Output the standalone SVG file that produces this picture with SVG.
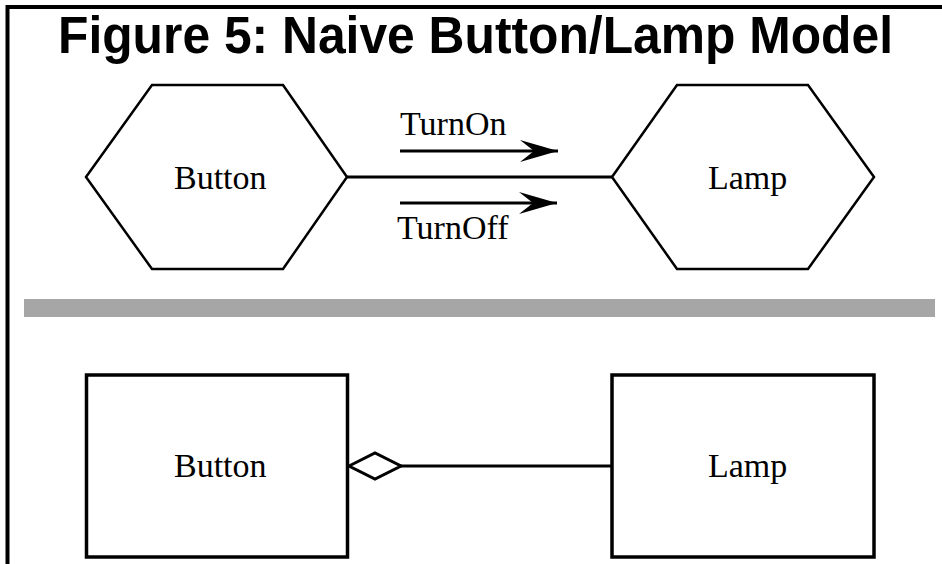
<svg xmlns="http://www.w3.org/2000/svg" width="942" height="564" viewBox="0 0 942 564">
  <style>
    .title { font-family: "Liberation Sans", Arial, sans-serif; font-weight: bold; font-size: 51px; fill: #000; }
    .lbl { font-family: "Liberation Serif", "Times New Roman", serif; font-size: 34px; fill: #000; }
    .shape { fill: #fff; stroke: #000; stroke-width: 2.5; stroke-linejoin: miter; }
    .box { fill: #fff; stroke: #000; stroke-width: 3.5; }
    .wire { fill: none; stroke: #000; stroke-width: 3; }
  </style>
  <defs>
    <marker id="barb" markerUnits="userSpaceOnUse" markerWidth="42" markerHeight="26" refX="38" refY="13" orient="auto">
      <path d="M38,13 L0,2 L14,13 L0,24 Z" fill="#000"/>
    </marker>
  </defs>

  <rect width="942" height="564" fill="#fff"/>

  <!-- frame: top and left edges -->
  <path d="M7.5,564 V7 H942" fill="none" stroke="#000" stroke-width="4"/>

  <text class="title" x="58" y="53" textLength="835" lengthAdjust="spacingAndGlyphs">Figure 5: Naive Button/Lamp Model</text>

  <!-- separator bar -->
  <rect x="24" y="299" width="911" height="18" fill="#a6a6a6"/>

  <g id="connectors">
    <line class="wire" x1="347" y1="177" x2="612" y2="177"/>
    <line class="wire" x1="400" y1="151" x2="558" y2="151" marker-end="url(#barb)"/>
    <line class="wire" x1="400" y1="203" x2="557" y2="203" marker-end="url(#barb)"/>
    <text class="lbl" x="400" y="135">TurnOn</text>
    <text class="lbl" x="397" y="239">TurnOff</text>
    <line class="wire" x1="400" y1="466" x2="611" y2="466"/>
    <path d="M349,466 L375,453 L401,466 L375,479 Z" fill="#fff" stroke="#000" stroke-width="3"/>
  </g>

  <g id="button-actor">
    <polygon class="shape" points="86,177 152,85 283,85 347,177 283,269 152,269"/>
    <text class="lbl" x="174" y="189">Button</text>
  </g>

  <g id="lamp-actor">
    <polygon class="shape" points="612,177 677,85 808,85 874,177 808,269 677,269"/>
    <text class="lbl" x="708" y="189">Lamp</text>
  </g>

  <g id="button-class">
    <rect class="box" x="86.5" y="375" width="261" height="182"/>
    <text class="lbl" x="174" y="477">Button</text>
  </g>

  <g id="lamp-class">
    <rect class="box" x="612" y="375" width="262" height="182"/>
    <text class="lbl" x="708" y="477">Lamp</text>
  </g>
</svg>
